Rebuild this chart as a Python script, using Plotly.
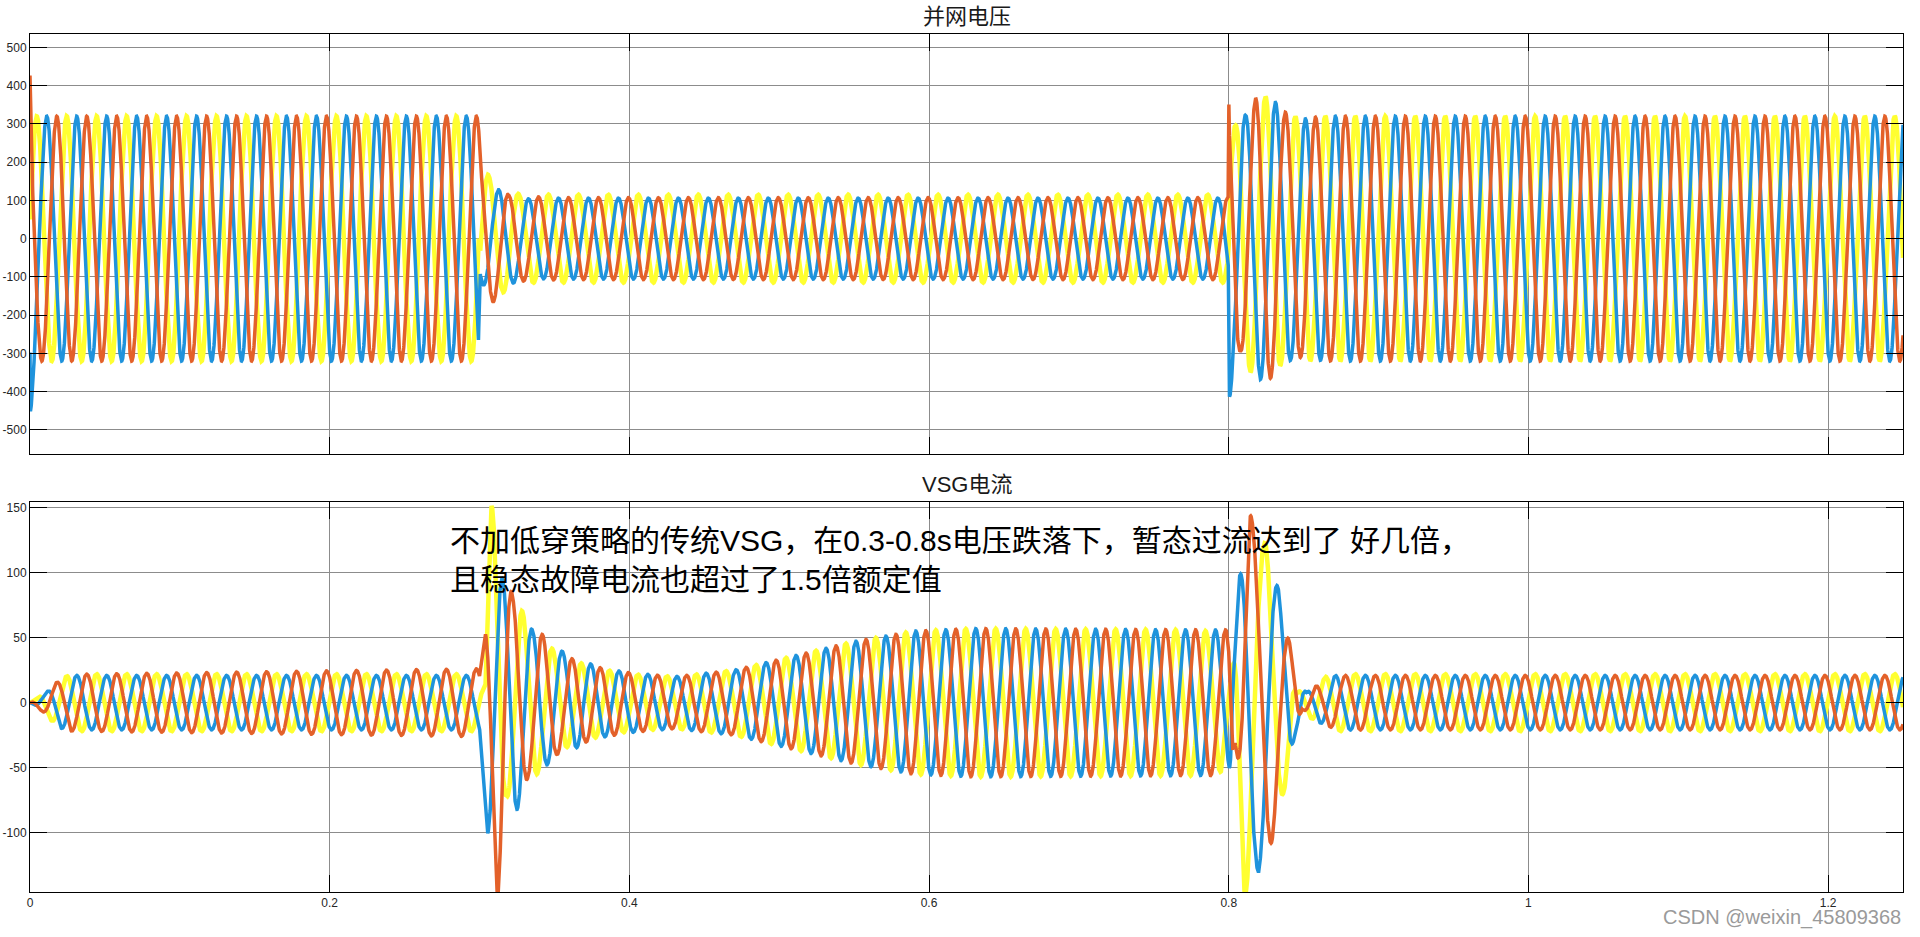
import numpy as np
import plotly.graph_objects as go

# ---------------- data ----------------
F_HZ = 50.0
T_END = 1.25
DT = 1e-4
# steady-state time of first positive peak of each phase (s)
PEAK_A = 0.0045   # yellow
PEAK_B = 0.0112   # blue
PEAK_C = 0.0179   # orange

# ---- grid voltage (并网电压): amplitude envelope keypoints per phase ----
va_t = [0.0, 0.2995, 0.3005, 0.3066, 0.3264, 0.35, 0.7995, 0.8005, 0.8046, 0.8142, 0.8251, 0.8348, 0.8453, 0.86, 1.25]
va_v = [320, 320, 200, 162, 116, 115, 115, 300, 296, 348, 372, 330, 318, 320, 320]

vb_t = [0.0, 0.0003, 0.0015, 0.004, 0.2993, 0.3001, 0.3133, 0.3326, 0.35, 0.7997, 0.8003, 0.8025, 0.8113, 0.821, 0.8321, 0.8415, 0.852, 0.865, 1.25]
vb_v = [320, 470, 400, 320, 320, 120, 128, 104, 106, 106, 430, 360, 322, 368, 355, 317, 313, 320, 320]

vc_t = [0.0, 0.0008, 0.003, 0.2995, 0.3005, 0.3093, 0.3197, 0.3393, 0.36, 0.7996, 0.8001, 0.8078, 0.818, 0.8281, 0.8388, 0.8482, 0.8587, 0.87, 1.25]
vc_v = [540, 400, 320, 320, 200, 165, 113, 109, 107, 107, 400, 291, 368, 365, 327, 310, 318, 320, 320]

# voltage phase lag (s)
vlag_t = [0.0, 0.2995, 0.3005, 0.7995, 0.8005, 1.25]
vlag_v = [0.0, 0.0, 0.0015, 0.0015, 0.0, 0.0]

# ---- VSG current (VSG电流): amplitude envelope keypoints per phase ----
ia_t = [0.0, 0.004, 0.013, 0.0245, 0.035, 0.300, 0.3078, 0.3178, 0.3278, 0.3389, 0.3478, 0.36, 0.38, 0.40, 0.43, 0.47,
        0.51, 0.55, 0.59, 0.63, 0.78, 0.7948, 0.8015, 0.8092, 0.8248, 0.8377, 0.845, 0.855, 0.8648, 0.875, 1.25]
ia_v = [0, 3, 12.8, 20.5, 22, 22, 155, 72, 71.5, 54, 42, 33, 26, 22, 20, 25,
        36, 47, 55, 57, 56, 53, 15, 150, 121.5, 64, 8, 12, 20, 22, 22]

ib_t = [0.0, 0.0107, 0.0207, 0.0314, 0.300, 0.3055, 0.3140, 0.3252, 0.3356, 0.3449, 0.3552, 0.37, 0.38, 0.40, 0.43, 0.47,
        0.51, 0.55, 0.59, 0.63, 0.78, 0.7915, 0.8008, 0.807, 0.8199, 0.8332, 0.8437, 0.852, 0.8615, 0.8715, 1.25]
ib_v = [0, 7.7, 19.7, 21, 21, 101, 97, 82, 55, 48, 39.5, 32, 27, 23, 20, 25,
        36, 47, 55, 57, 56, 56, 50, 97, 131, 87.5, 27, 8, 16, 21, 21]

ic_t = [0.0, 0.0073, 0.0175, 0.0275, 0.2978, 0.300, 0.3122, 0.3222, 0.3322, 0.3427, 0.3516, 0.3612, 0.38, 0.40, 0.43, 0.47,
        0.51, 0.55, 0.59, 0.63, 0.78, 0.7985, 0.8043, 0.8143, 0.8288, 0.8408, 0.849, 0.857, 0.868, 0.878, 1.25]
ic_v = [0, 6, 15.4, 21.8, 26, 26, 150, 80.5, 58, 52, 40, 34, 27, 23, 20, 25,
        36, 47, 55, 57, 56, 56, 31, 145, 107, 45, 5, 12, 19, 21, 21]

# current phase lag (s)
ilag_t = [0.0, 0.300, 0.304, 0.36, 0.40, 0.45, 0.80, 0.8025, 0.815, 0.825, 0.838, 0.845, 0.86, 1.25]
ilag_v = [0.0, 0.0, 0.004, 0.004, 0.0015, 0.0, 0.0, -0.004, -0.003, 0.0, 0.0025, 0.0025, 0.0, 0.0]

x_ticks = [0, 0.2, 0.4, 0.6, 0.8, 1.0, 1.2]
x_tick_text = ["0", "0.2", "0.4", "0.6", "0.8", "1", "1.2"]
v_ticks = [-500, -400, -300, -200, -100, 0, 100, 200, 300, 400, 500]
v_tick_text = [str(v) for v in v_ticks]
i_ticks = [-100, -50, 0, 50, 100, 150]
i_tick_text = [str(v) for v in i_ticks]

title_v = "并网电压"
title_i = "VSG电流"
note_lines = ["不加低穿策略的传统VSG，在0.3-0.8s电压跌落下，暂态过流达到了 好几倍，",
              "且稳态故障电流也超过了1.5倍额定值"]
watermark = "CSDN @weixin_45809368"

# ---------------- build waveforms ----------------
t = np.arange(0.0, T_END + DT / 2, DT)


def wave(env_t, env_v, lag_t, lag_v, peak):
    env = np.interp(t, env_t, env_v)
    lag = np.interp(t, lag_t, lag_v)
    return env * np.cos(2 * np.pi * F_HZ * (t - lag - peak))


va = wave(va_t, va_v, vlag_t, vlag_v, PEAK_A)
vb = wave(vb_t, vb_v, vlag_t, vlag_v, PEAK_B)
vc = wave(vc_t, vc_v, vlag_t, vlag_v, PEAK_C)
ia = wave(ia_t, ia_v, ilag_t, ilag_v, PEAK_A)
ib = wave(ib_t, ib_v, ilag_t, ilag_v, PEAK_B)
ic = wave(ic_t, ic_v, ilag_t, ilag_v, PEAK_C)

YELLOW = "#FFFF30"
BLUE = "#1F93DC"
ORANGE = "#E3612A"

fig = go.Figure()
for y, col, w in [(va, YELLOW, 4.5), (vb, BLUE, 3.5), (vc, ORANGE, 3.5)]:
    fig.add_trace(go.Scatter(x=t, y=y, mode="lines", line=dict(color=col, width=w),
                             xaxis="x", yaxis="y", showlegend=False, hoverinfo="skip"))
for y, col, w in [(ia, YELLOW, 4.5), (ib, BLUE, 3.5), (ic, ORANGE, 3.5)]:
    fig.add_trace(go.Scatter(x=t, y=y, mode="lines", line=dict(color=col, width=w),
                             xaxis="x2", yaxis="y2", showlegend=False, hoverinfo="skip"))

tickfont = dict(family="Liberation Sans, Arial, sans-serif", size=12, color="#262626")
common = dict(showline=True, linecolor="black", linewidth=1, mirror="ticks",
              ticks="inside", ticklen=17, tickcolor="black", tickwidth=1,
              showgrid=True, gridcolor="#8c8c8c", gridwidth=1, zeroline=False,
              tickfont=tickfont, automargin=False)

TOP_DOM = [0.5105, 1.0]
BOT_DOM = [0.0, 0.4549]

fig.update_layout(
    width=1920, height=937, autosize=False,
    margin=dict(l=30, r=17, t=34, b=45),
    paper_bgcolor="white", plot_bgcolor="white",
    showlegend=False,
    xaxis=dict(domain=[0, 1], range=[0, T_END], anchor="y", tickvals=x_ticks,
               showticklabels=False, **common),
    yaxis=dict(domain=TOP_DOM, range=[-563, 535], anchor="x", tickvals=v_ticks,
               ticktext=v_tick_text, **common),
    xaxis2=dict(domain=[0, 1], range=[0, T_END], anchor="y2", tickvals=x_ticks,
                ticktext=x_tick_text, **common),
    yaxis2=dict(domain=BOT_DOM, range=[-145.6, 154.6], anchor="x2", tickvals=i_ticks,
                ticktext=i_tick_text, **common),
)

title_font = dict(family="Liberation Sans, Noto Sans CJK SC, sans-serif", size=22, color="#1a1a1a")
fig.add_annotation(text=title_v, xref="paper", yref="paper", x=0.5, y=1.0202,
                   xanchor="center", yanchor="middle", showarrow=False, font=title_font)
fig.add_annotation(text=title_i, xref="paper", yref="paper", x=0.5, y=0.4747,
                   xanchor="center", yanchor="middle", showarrow=False, font=title_font)

fig.add_annotation(text="<br>".join(note_lines), xref="paper", yref="paper",
                   x=(448 - 30) / 1873, y=(892.3 - 560.5) / 858,
                   xanchor="left", yanchor="middle", align="left", showarrow=False,
                   font=dict(family="Liberation Sans, Noto Sans CJK SC, sans-serif", size=30, color="black"))

fig.add_annotation(text=watermark, xref="paper", yref="paper",
                   x=1.0, y=(892.3 - 918) / 858, xanchor="right", yanchor="middle",
                   showarrow=False,
                   font=dict(family="Liberation Sans, Arial, sans-serif", size=20, color="#9a9a9a"))

# remove the browser's default 8px body margin so the figure fills the window
fig.write_html("out.html", config={"displayModeBar": False},
               post_script="document.body.style.margin='0';document.body.style.overflow='hidden';")
